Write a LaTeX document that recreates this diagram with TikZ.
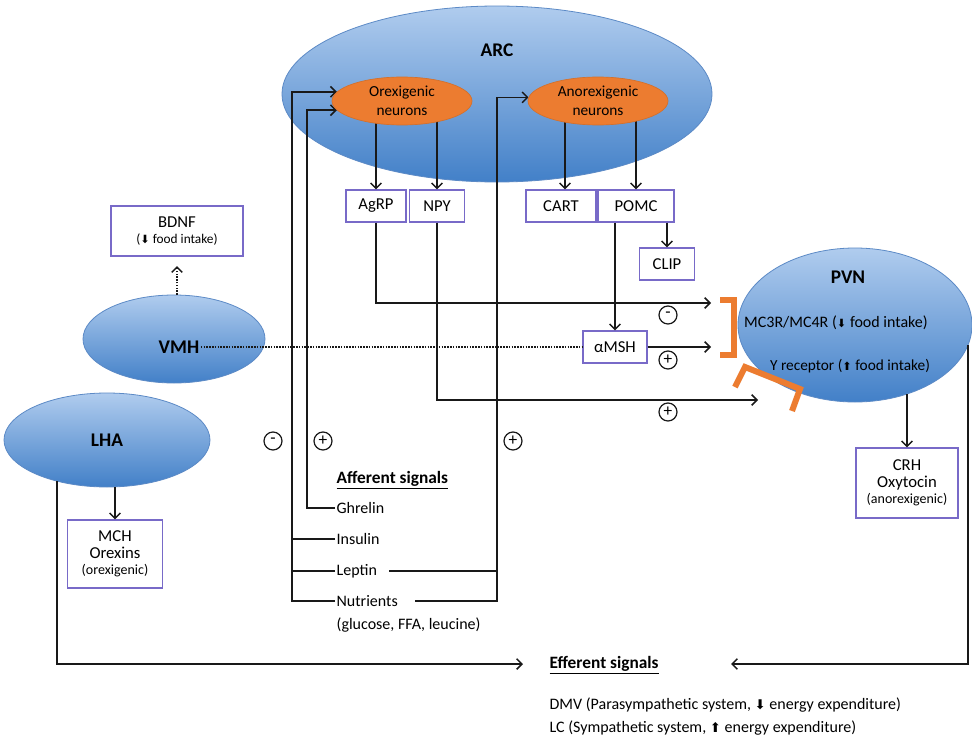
\documentclass[tikz,border=0pt]{standalone}
\usepackage{fontspec}
\setmainfont{Carlito}
\newfontfamily\symfont{DejaVu Sans}
\usetikzlibrary{shapes.geometric,arrows.meta}
\pgfdeclarelayer{bg}
\pgfdeclarelayer{fg}
\pgfsetlayers{bg,main,fg}
\definecolor{bluetop}{RGB}{176,204,238}
\definecolor{bluebot}{RGB}{66,128,200}
\definecolor{blueedge}{RGB}{92,138,198}
\definecolor{orng}{RGB}{236,124,48}
\definecolor{boxc}{RGB}{120,106,200}
\definecolor{ln}{RGB}{25,25,25}
\newcommand{\arrdn}{{\symfont\fontsize{8.5}{8}\selectfont ⬇}}
\newcommand{\arrupp}{{\symfont\fontsize{8.5}{8}\selectfont ⬆}}
\newcommand{\bigdn}{{\symfont\fontsize{10}{10}\selectfont ⬇}}
\newcommand{\bigup}{{\symfont\fontsize{10}{10}\selectfont ⬆}}
\begin{document}
\begin{tikzpicture}[x=0.75pt,y=-0.75pt,
  nucleus/.style={ellipse, draw=blueedge, line width=0.6pt, top color=bluetop, bottom color=bluebot, inner sep=0pt},
  neuron/.style={ellipse, draw=orng!90!black, line width=0.5pt, fill=orng, inner sep=0pt, align=center, font=\fontsize{11.5}{14}\selectfont},
  pbox/.style={draw=boxc, line width=1pt, fill=white, align=center, inner sep=1pt, font=\fontsize{12.5}{14}\selectfont},
  txt/.style={inner sep=1pt, font=\fontsize{12}{13}\selectfont},
  ttl/.style={inner sep=1pt, font=\fontsize{14.5}{16}\selectfont\bfseries},
  sign/.style={circle, draw=ln, line width=0.9pt, minimum size=13.5pt, inner sep=0pt, font=\fontsize{13}{13}\selectfont},
  conn/.style={draw=ln, line width=1.1pt},
  arr/.style={conn, -{Straight Barb[length=4pt,width=8pt]}},
  dots/.style={conn, densely dotted},
  brk/.style={draw=orng, line width=4.5pt}]
\useasboundingbox (0,0) rectangle (972,746);
\begin{pgfonlayer}{bg}
\fill[white] (0,0) rectangle (972,746);
\node[nucleus, minimum width=322.5pt, minimum height=132pt] (arc) at (497,94) {};
\node[nucleus, minimum width=136.5pt, minimum height=66pt] (vmh) at (174,339) {};
\node[nucleus, minimum width=154.5pt, minimum height=70.5pt, font=\fontsize{14.5}{16}\selectfont\bfseries] (lha) at (107,440) {LHA};
\node[nucleus, minimum width=175.5pt, minimum height=115.5pt] (pvn) at (855,325) {};
\end{pgfonlayer}
\begin{pgfonlayer}{fg}
\node[neuron, minimum width=105pt, minimum height=36pt] (orex) at (402,101) {Orexigenic\\neurons};
\node[neuron, minimum width=105pt, minimum height=36pt] (anorex) at (598,101) {Anorexigenic\\neurons};
\draw[brk] (720,300) -- (734,300) -- (734,355) -- (720,355);
\draw[brk] (735,387) -- (745,367) -- (800,389) -- (792,411);
\end{pgfonlayer}
% titles
\node[ttl] (arcT) at (497,50) {ARC};
\node[ttl] (pvnT) at (848,277) {PVN};
\node[ttl] (vmhT) at (179,347) {VMH};
\node[txt] (mc) at (836,323) {MC3R/MC4R (\arrdn{} food intake)};
\node[txt, font=\fontsize{11.5}{13}\selectfont] (yr) at (850,366) {Y receptor (\arrupp{} food intake)};
% boxes
\node[pbox, minimum width=45pt, minimum height=24pt] (agrp) at (376,206) {AgRP};
\node[pbox, minimum width=41.25pt, minimum height=24pt] (npy) at (437,206) {NPY};
\node[pbox, minimum width=52.5pt, minimum height=24pt] (cart) at (561,206) {CART};
\node[pbox, minimum width=57pt, minimum height=24pt] (pomc) at (636,206) {POMC};
\node[pbox, minimum width=41.25pt, minimum height=24pt] (clip) at (667,264) {CLIP};
\node[pbox, minimum width=48pt, minimum height=24pt] (amsh) at (615,347) {αMSH};
\node[pbox, minimum width=99pt, minimum height=37.5pt] (bdnf) at (177,231) {BDNF\\[-2pt]{\fontsize{10}{11}\selectfont(\arrdn{} food intake)}};
\node[pbox, minimum width=71.25pt, minimum height=51pt] (mch) at (115,554) {MCH\\[-1pt]Orexins\\[-2pt]{\fontsize{10.5}{11}\selectfont(orexigenic)}};
\node[pbox, minimum width=76.5pt, minimum height=52.5pt] (crh) at (907,483) {CRH\\[-1pt]Oxytocin\\[-2pt]{\fontsize{10.5}{11}\selectfont(anorexigenic)}};
% signs
\node[sign] (s1) at (668,315) {-};
\node[sign] (s2) at (668,360) {+};
\node[sign] (s3) at (668,412) {+};
\node[sign] (s4) at (273,441) {-};
\node[sign] (s5) at (323,441) {+};
\node[sign] (s6) at (513,441) {+};
% afferent
\node[txt, anchor=west, font=\fontsize{13}{14}\selectfont] (aff) at (335,480) {\underline{\textbf{Afferent signals}}};
\node[txt, anchor=west] (ghr) at (335,508) {Ghrelin};
\node[txt, anchor=west] (ins) at (335,539) {Insulin};
\node[txt, anchor=west] (lep) at (335,571) {Leptin};
\node[txt, anchor=west] (nut) at (335,601) {Nutrients};
\node[txt, anchor=west] (nutd) at (335,625) {(glucose, FFA, leucine)};
% efferent
\node[txt, anchor=west, font=\fontsize{13}{14}\selectfont] (eff) at (548,665) {\underline{\textbf{Efferent signals}}};
\node[txt, anchor=west] (dmv) at (548,705) {DMV (Parasympathetic system, \bigdn{} energy expenditure)};
\node[txt, anchor=west] (lc) at (548,728) {LC (Sympathetic system, \bigup{} energy expenditure)};
% helper coordinates
\coordinate (colA) at (292,0);
\coordinate (colB) at (307,0);
\coordinate (colC) at (497,0);
\coordinate (tipA) at (711,303);
\coordinate (tipB) at (711,347);
\coordinate (tipC) at (758,400);
\coordinate (pvnR) at (968,345);
\coordinate (pvnB) at (907,394);
\coordinate (lhaB) at (57,481);
\coordinate (effL) at (523,664);
\coordinate (effR) at (731,664);
% connectors
\draw[arr] (agrp.north |- orex.center) -- (agrp.north);
\draw[arr] (npy.north |- orex.center) -- (npy.north);
\draw[arr] ([xshift=3pt]cart.north |- anorex.center) -- ([xshift=3pt]cart.north);
\draw[arr] (pomc.north |- anorex.center) -- (pomc.north);
\draw[arr] (clip.north |- pomc.south) -- (clip.north);
\draw[arr] (amsh.north |- pomc.south) -- (amsh.north);
\draw[arr] (agrp.south) |- (tipA);
\draw[arr] (npy.south) |- (tipC);
\draw[arr] (amsh.east) -- (tipB);
\draw[dots] (vmhT.east) -- (amsh.west);
\draw[dots, -{Straight Barb[length=4pt,width=8pt]}, shorten >=7pt] (bdnf.south |- vmh.north) -- (bdnf.south);
\draw[arr] (nut.west) -- (nut.west -| colA) |- (orex.172);
\draw[conn] (ins.west) -- (ins.west -| colA);
\draw[conn] (lep.west) -- (lep.west -| colA);
\draw[arr] (ghr.west) -- (ghr.west -| colB) |- (orex.188);
\draw[conn] ([xshift=8pt]lep.east) -- (lep.east -| colC);
\draw[arr] ([xshift=12pt]nut.east) -- (nut.east -| colC) |- (anorex.177);
\draw[arr] (mch.north |- lha.south) -- (mch.north);
\draw[arr] (pvnB) -- (crh.north);
\draw[arr] (lhaB) |- (effL);
\draw[arr] (pvnR) |- (effR);
\end{tikzpicture}
\end{document}
